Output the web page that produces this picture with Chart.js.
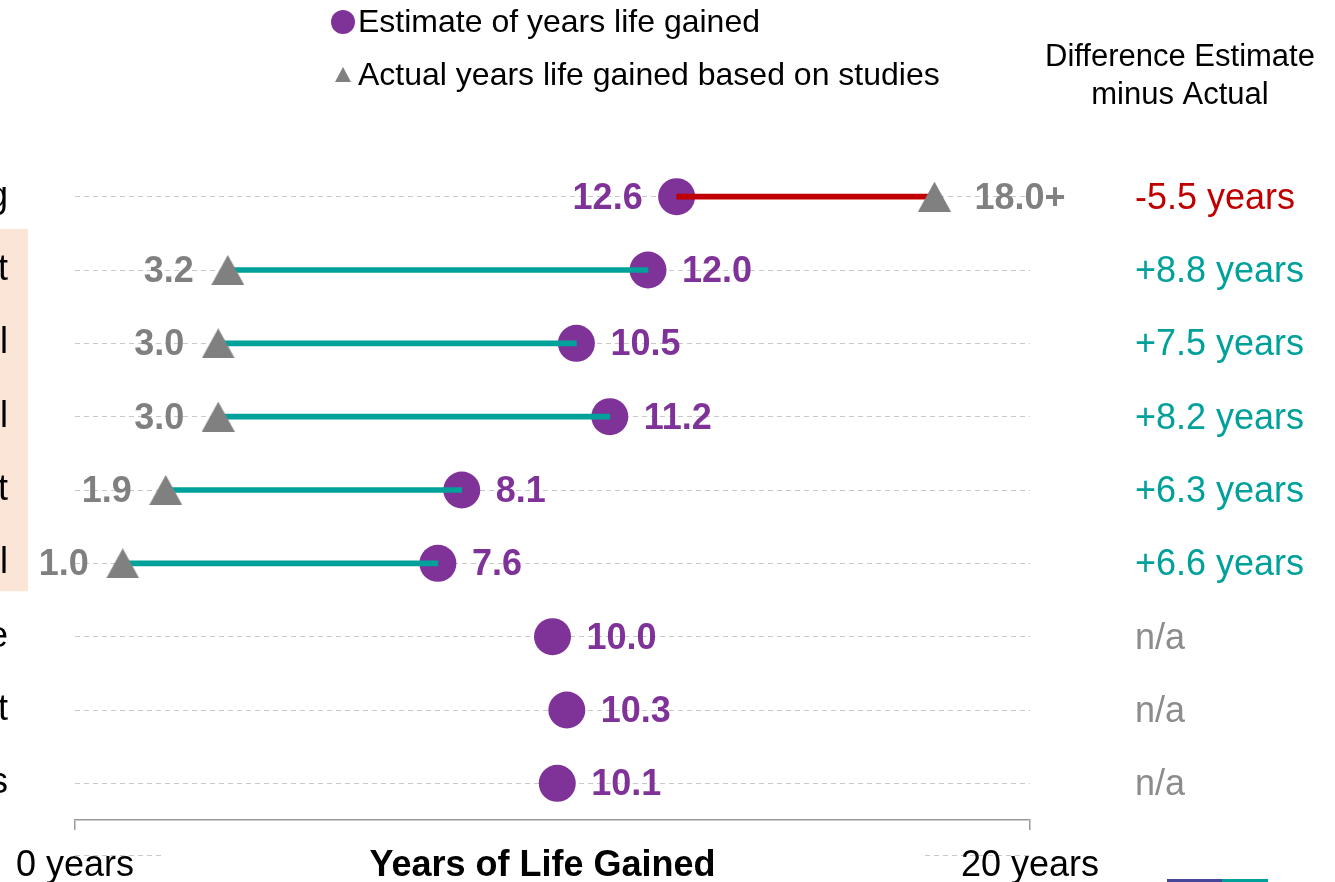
<!DOCTYPE html>
<html>
<head>
<meta charset="utf-8">
<title>Years of Life Gained</title>
<script src="https://cdn.jsdelivr.net/npm/chart.js@4.4.1/dist/chart.umd.min.js"></script>
<style>
html, body { margin: 0; padding: 0; background: #fff; }
canvas { display: block; }
</style>
</head>
<body>
<canvas id="chart1" width="1335" height="882"></canvas>
<script>
// rows (only the last letter of each label is visible in the picture)
var rowLabels = ['g', 't', 'l', 'l', 't', 'l', 'e', 't', 's'];
var estimateYears = [12.6, 12.0, 10.5, 11.2, 8.1, 7.6, 10.0, 10.3, 10.1];
var actualYears = [18.0, 3.2, 3.0, 3.0, 1.9, 1.0, null, null, null];
var actualLabels = ['18.0+', '3.2', '3.0', '3.0', '1.9', '1.0', '', '', ''];
var diffLabels = ['-5.5 years', '+8.8 years', '+7.5 years', '+8.2 years', '+6.3 years', '+6.6 years', 'n/a', 'n/a', 'n/a'];
var xTicks = [0, 20];
var shadedRows = [1, 5];

var PURPLE = '#7F3298';
var GREY = '#808080';
var TEAL = '#00A19B';
var RED = '#C00000';
var FONT = '"Liberation Sans", Arial, sans-serif';

Chart.defaults.font.family = FONT;
Chart.defaults.color = '#000';

// triangle marker centred on its box (the built-in one sits high)
function makeTriangle(w, h, color){
	var c = document.createElement('canvas');
	c.width = w;
	c.height = h;
	var g = c.getContext('2d');
	g.fillStyle = color;
	g.beginPath();
	g.moveTo(w / 2, 0);
	g.lineTo(w, h);
	g.lineTo(0, h);
	g.closePath();
	g.fill();
	return c;
}

function buildSpans(){
	var spans = [];
	var colors = [];
	for (var i = 0; i < rowLabels.length; i++){
		if (actualYears[i] === null){
			spans.push(null);
			colors.push(TEAL);
		} else {
			spans.push([Math.min(actualYears[i], estimateYears[i]), Math.max(actualYears[i], estimateYears[i])]);
			colors.push(estimateYears[i] < actualYears[i] ? RED : TEAL);
		}
	}
	return { spans: spans, colors: colors };
}

function buildPoints(values){
	var pts = [];
	for (var i = 0; i < values.length; i++){
		if (values[i] !== null) pts.push({ x: values[i], y: i });
	}
	return pts;
}

var extras = {
	id: 'extras',
	beforeDraw: function(chart){
		var ctx = chart.ctx;
		var x = chart.scales.x, y = chart.scales.y;
		var step = y.getPixelForValue(1) - y.getPixelForValue(0);
		ctx.save();
		// peach band behind the rows with study results
		ctx.fillStyle = '#FBE5D6';
		var top = y.getPixelForValue(shadedRows[0]) - step * 0.56;
		var bottom = y.getPixelForValue(shadedRows[1]) + step * 0.38;
		ctx.fillRect(0, top, 28, bottom - top);
		// faint dashes next to the axis labels
		ctx.strokeStyle = '#c8c8c8';
		ctx.lineWidth = 1;
		ctx.setLineDash([5, 4]);
		var yy = chart.chartArea.bottom + 35.5;
		ctx.beginPath();
		ctx.moveTo(x.getPixelForValue(xTicks[0]), yy);
		ctx.lineTo(x.getPixelForValue(xTicks[0]) + 88, yy);
		ctx.moveTo(x.getPixelForValue(xTicks[1]) - 105, yy);
		ctx.lineTo(x.getPixelForValue(xTicks[1]), yy);
		ctx.stroke();
		ctx.restore();
	},
	afterDatasetsDraw: function(chart){
		var ctx = chart.ctx;
		var x = chart.scales.x, y = chart.scales.y;
		ctx.save();
		ctx.textBaseline = 'middle';
		for (var i = 0; i < rowLabels.length; i++){
			var py = y.getPixelForValue(i) + 2;
			var ex = x.getPixelForValue(estimateYears[i]);
			var estRight = actualYears[i] === null || estimateYears[i] > actualYears[i];
			ctx.font = 'bold 36px ' + FONT;
			ctx.fillStyle = PURPLE;
			ctx.textAlign = estRight ? 'left' : 'right';
			ctx.fillText(estimateYears[i].toFixed(1), ex + (estRight ? 34 : -34), py);
			if (actualYears[i] !== null){
				var ax = x.getPixelForValue(actualYears[i]);
				ctx.fillStyle = GREY;
				ctx.textAlign = estRight ? 'right' : 'left';
				ctx.fillText(actualLabels[i], ax + (estRight ? -34 : 40), py);
			}
			// difference column
			ctx.font = '36px ' + FONT;
			ctx.textAlign = 'left';
			var d = diffLabels[i];
			ctx.fillStyle = d.charAt(0) === '-' ? RED : (d.charAt(0) === '+' ? TEAL : '#8c8c8c');
			ctx.fillText(d, chart.chartArea.right + 105, py);
		}
		ctx.restore();
	},
	afterDraw: function(chart){
		var ctx = chart.ctx;
		var area = chart.chartArea;
		ctx.save();
		// legend
		ctx.fillStyle = PURPLE;
		ctx.beginPath();
		ctx.arc(343, 22, 12, 0, Math.PI * 2);
		ctx.fill();
		ctx.fillStyle = GREY;
		ctx.beginPath();
		ctx.moveTo(343, 67);
		ctx.lineTo(351, 82);
		ctx.lineTo(335, 82);
		ctx.closePath();
		ctx.fill();
		ctx.fillStyle = '#000';
		ctx.font = '32px ' + FONT;
		ctx.textAlign = 'left';
		ctx.textBaseline = 'middle';
		ctx.fillText('Estimate of years life gained', 358, 23);
		ctx.fillText('Actual years life gained based on studies', 358, 76);
		// header of the difference column
		ctx.font = '31px ' + FONT;
		ctx.textAlign = 'center';
		ctx.fillText('Difference Estimate', area.right + 150, 57);
		ctx.fillText('minus Actual', area.right + 150, 95);
		// axis title, on the same line as the tick labels
		ctx.font = 'bold 36px ' + FONT;
		ctx.fillText('Years of Life Gained', (area.left + area.right) / 2 - 10, 866);
		// small rule in the bottom right corner
		ctx.fillStyle = '#45479A';
		ctx.fillRect(1167, 879, 55, 3);
		ctx.fillStyle = TEAL;
		ctx.fillRect(1222, 879, 46, 3);
		ctx.restore();
	}
};

function drawChart(){
	var sp = buildSpans();
	var tri = makeTriangle(33, 30, GREY);
	var config = {
		type: 'bar',
		data: {
			labels: rowLabels,
			datasets: [
				{
					type: 'line',
					label: 'Estimate of years life gained',
					data: buildPoints(estimateYears),
					showLine: false,
					pointStyle: 'circle',
					pointRadius: 18.5,
					pointHoverRadius: 18.5,
					pointBackgroundColor: PURPLE,
					pointBorderWidth: 0,
					order: 3
				},
				{
					type: 'bar',
					label: 'gap',
					data: sp.spans,
					backgroundColor: sp.colors,
					barThickness: 5,
					borderSkipped: false,
					order: 2
				},
				{
					type: 'line',
					label: 'Actual years life gained based on studies',
					data: buildPoints(actualYears),
					showLine: false,
					pointStyle: tri,
					pointRadius: 17,
					pointHoverRadius: 17,
					pointBackgroundColor: GREY,
					pointBorderWidth: 0,
					order: 1
				}
			]
		},
		options: {
			indexAxis: 'y',
			responsive: false,
			animation: false,
			layout: { autoPadding: false, padding: { top: 160, right: 305, left: 0, bottom: 0 } },
			plugins: {
				legend: { display: false },
				tooltip: { enabled: false }
			},
			scales: {
				x: {
					type: 'linear',
					min: xTicks[0],
					max: xTicks[1],
					afterFit: function(s){ s.height = 62; s.paddingLeft = 0; s.paddingRight = 0; },
					ticks: {
						stepSize: 20,
						autoSkip: false,
						maxRotation: 0,
						padding: 14,
						color: '#000',
						font: { size: 36 },
						callback: function(v){ return xTicks.indexOf(v) >= 0 ? v + ' years' : ''; }
					},
					grid: { drawOnChartArea: false, drawTicks: true, tickLength: 10, color: '#999', lineWidth: 1.5 },
					border: { display: true, color: '#999', width: 1.5 }
				},
				y: {
					type: 'category',
					offset: true,
					afterFit: function(s){ s.width = 75; s.paddingTop = 0; s.paddingBottom = 0; },
					ticks: { color: '#000', font: { size: 36 }, padding: 67 },
					grid: { offset: false, drawTicks: false, color: '#c8c8c8', lineWidth: 1 },
					border: { display: false, dash: [5, 4] }
				}
			}
		},
		plugins: [extras]
	};
	var canvas = document.getElementById('chart1').getContext('2d');
	window.dumbbell = new Chart(canvas, config);
}

drawChart();
</script>
</body>
</html>
